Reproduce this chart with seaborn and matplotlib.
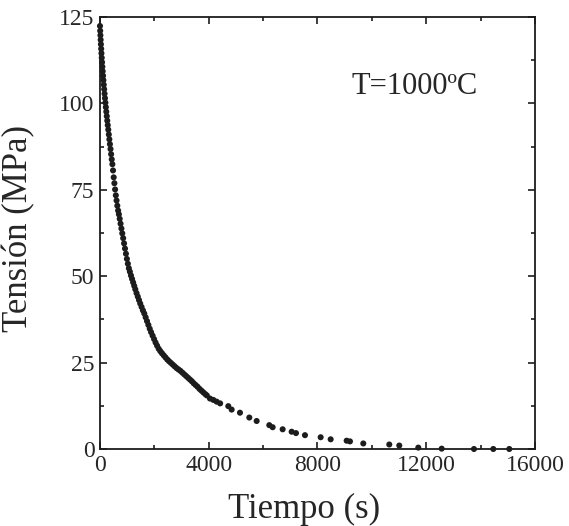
import matplotlib
matplotlib.use('Agg')
import matplotlib.pyplot as plt
from matplotlib.ticker import MultipleLocator
import seaborn as sns
import pandas as pd

# stress relaxation readings
# time (s)
tiempo = [
    0, 8, 16, 25, 34, 44, 54, 65, 76, 88, 100, 113, 126, 140, 154, 169,
    184, 200, 216, 233, 250, 268, 286,
    305, 325, 345, 366, 388, 410, 433, 456, 480, 505, 530, 556, 583, 610,
    638, 667, 696, 726, 757, 788, 820, 853, 886, 920, 955, 990, 1026, 1062,
    1100, 1140, 1180, 1220, 1260, 1300, 1345, 1390, 1435, 1480, 1530, 1580,
    1630, 1680, 1730, 1780, 1830, 1880, 1935, 1990, 2045, 2100, 2160, 2220,
    2280, 2345, 2410, 2475, 2540, 2610, 2680, 2750, 2820, 2890, 2960, 3030,
    3100, 3170, 3240, 3310, 3380, 3450, 3520, 3590, 3660, 3730, 3800, 3870,
    3930,
    4046, 4170, 4291, 4420, 4720, 4843, 5149, 5493, 5763, 6228, 6351, 6719,
    7050, 7209, 7540, 8117, 8485, 9073, 9195, 9685, 10641, 11009, 11708,
    12568, 13756, 14467, 15055,
]
# stress (MPa)
tension = [
    122.4, 121.0, 119.7, 118.4, 117.1, 115.8, 114.5, 113.2, 111.9, 110.6,
    109.3, 108.0, 106.7, 105.4, 104.1, 102.8, 101.5, 100.2, 98.9, 97.6,
    96.3, 95.0, 93.7,
    92.4, 91.0, 89.6, 88.2, 86.8, 85.3, 83.8, 82.4, 80.6, 78.6, 76.9, 75.1,
    73.4, 71.9, 70.4, 69.0, 67.9, 66.6, 65.2, 63.8, 62.4, 61.0, 59.5, 58.0,
    56.5, 55.0, 53.6, 52.3,
    51.3, 50.2, 49.2, 48.2, 47.2, 46.2, 45.1, 44.1, 43.1, 42.1, 41.1, 40.1,
    39.2, 38.1, 37.0, 35.9, 34.8, 33.8, 32.8, 31.8, 30.8, 29.9, 29.0, 28.3,
    27.7, 27.1, 26.5, 25.9, 25.4, 24.9, 24.4, 23.9, 23.4, 23.0, 22.6, 22.1,
    21.6, 21.1, 20.6, 20.1, 19.6, 19.0, 18.5, 18.0, 17.4, 16.9, 16.4, 15.9,
    15.5,
    14.6, 14.2, 13.7, 13.2, 12.4, 11.4, 10.5, 9.1, 8.1, 6.9, 6.3, 5.7,
    5.0, 4.6, 4.0, 3.4, 2.8, 2.4, 2.2, 1.6, 1.3, 1.0, 0.4,
    0.1, 0.0, 0.0, 0.0,
]

TITLE = 'T=1000ºC'
X_LAB = 'Tiempo (s)'
Y_LAB = 'Tensión (MPa)'

df = pd.DataFrame({'t': tiempo, 's': tension})

sns.set_style('ticks')
plt.rcParams['font.family'] = ['Liberation Serif', 'DejaVu Serif']

fig = plt.figure(figsize=(5.69, 5.26), dpi=100)
ax = fig.add_axes([0.1757, 0.1464, 0.7645, 0.8213])

sns.scatterplot(data=df, x='t', y='s', ax=ax, s=19, color='#1c1c1c',
                edgecolor='none', linewidth=0, clip_on=False, legend=False)

ax.set_xlim(0, 16000)
ax.set_ylim(0, 125)
ax.xaxis.set_major_locator(MultipleLocator(4000))
ax.xaxis.set_minor_locator(MultipleLocator(2000))
ax.yaxis.set_major_locator(MultipleLocator(25))
ax.yaxis.set_minor_locator(MultipleLocator(12.5))

for sp in ax.spines.values():
    sp.set_visible(True)
    sp.set_linewidth(1.3)
    sp.set_color('#1c1c1c')

ax.tick_params(which='both', direction='in', top=True, right=True,
               width=1.2, color='#1c1c1c', labelsize=17, pad=4)
ax.tick_params(which='major', length=5)
ax.tick_params(which='minor', length=3)

ax.set_xlabel(X_LAB, fontsize=25)
ax.set_ylabel(Y_LAB, fontsize=25)
ax.xaxis.set_label_coords(0.469, -0.102)
ax.yaxis.set_label_coords(-0.149, 0.51)

ax.text(9269, 104.8, TITLE, fontsize=22, ha='left', va='center')

fig.savefig('out.png', dpi=100)
